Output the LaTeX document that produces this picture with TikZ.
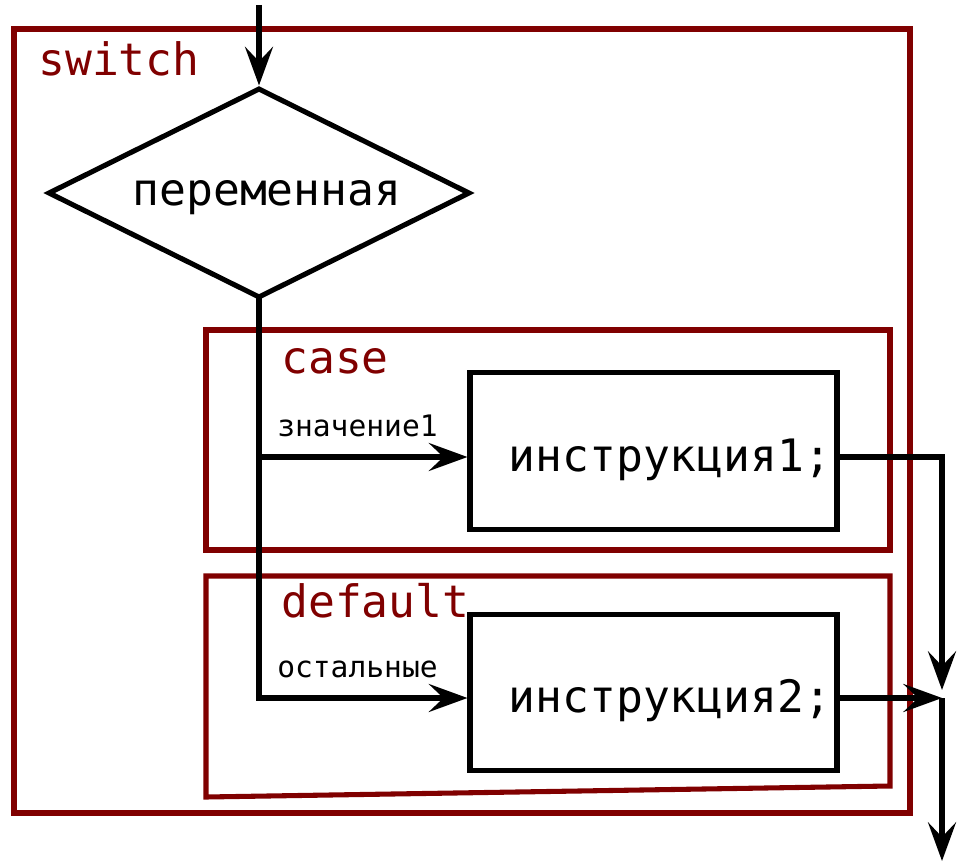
\documentclass[tikz,border=0pt]{standalone}
\usepackage{fontspec}
\newfontfamily\mono{DejaVu Sans Mono}
\usetikzlibrary{arrows.meta,shapes.geometric}
\definecolor{dred}{HTML}{800000}
\begin{document}
\begin{tikzpicture}[x=0.75pt,y=-0.75pt,
  flow/.style={line width=3.8pt,black},
  frame/.style={line width=3.8pt,dred},
  arr/.style={-{Stealth[length=29pt,width=21pt,inset=11pt]}},
  big/.style={font=\mono\fontsize{33.5}{38}\selectfont,inner sep=0pt},
  kw/.style={font=\mono\fontsize{33.5}{38}\selectfont,inner sep=0pt,text=dred,anchor=base west},
  small/.style={font=\mono\fontsize{22.2}{26}\selectfont,inner sep=0pt,anchor=base west},
  instbox/.style={draw,line width=3.8pt,minimum width=275.25pt,minimum height=117.5pt,inner sep=0pt}]
\useasboundingbox (0,0) rectangle (967,863);
% frames
\draw[frame] (14,29) rectangle (910,813);
\draw[frame] (206,330) rectangle (890,550);
\draw[frame] (206,576) -- (890,576) -- (890,786) -- (206,797) -- cycle;
\node[kw] (tsw) at (38,76) {switch};
\node[kw] (tcase) at (281,373) {case};
\node[kw] (tdef) at (281,617) {default};
% diamond
\node[diamond,draw,line width=3.8pt,minimum width=316.5pt,minimum height=157.5pt,inner sep=0pt] (d) at (259,193) {};
\node[big,anchor=base] (dt) at (267,205) {переменная};
% boxes
\node[instbox] (i1) at (653.5,451) {};
\node[big,anchor=base] (i1t) at (670,471) {инструкция1;};
\node[instbox] (i2) at (653.5,692.5) {};
\node[big,anchor=base] (i2t) at (670,712) {инструкция2;};
% coordinates
\coordinate (top) at (259,5);
\coordinate (b1) at (259,457);
\coordinate (b2) at (259,698);
\coordinate (m) at (942,698);
\coordinate (r1) at (942,457);
\coordinate (out) at (942,861);
% connectors
\draw[flow,arr] (top) -- (d.north);
\draw[flow,line cap=rect] (d.south) -- (b2);
\draw[flow,arr] (b1) -- (b1 -| i1.west);
\draw[flow,arr] (b2) -- (b2 -| i2.west);
\draw[flow,arr] (b1 -| i1.east) -- (r1) -- ([yshift=6pt]m);
\draw[flow,arr] (b2 -| i2.east) -- (m);
\draw[flow,arr] (m) -- (out);
% labels
\node[small] (l1) at (277,436) {значение1};
\node[small] (l2) at (277,677) {остальные};
\end{tikzpicture}
\end{document}
